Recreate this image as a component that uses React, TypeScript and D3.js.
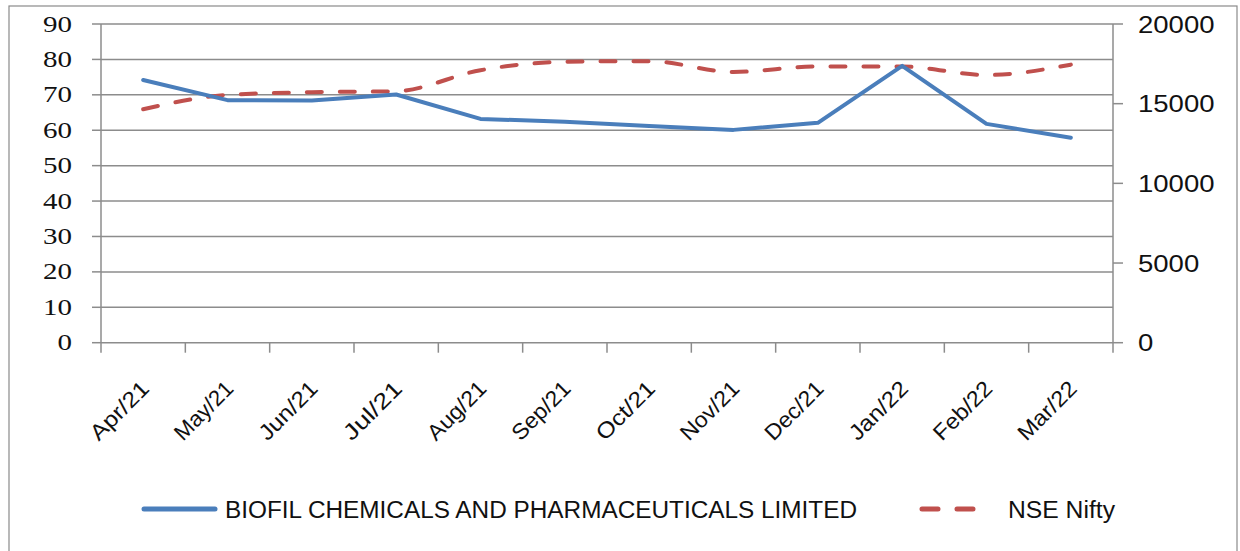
import * as d3 from "d3";
import { useEffect, useRef } from "react";

// monthly data, Apr 2021 - Mar 2022
const months = ["Apr/21", "May/21", "Jun/21", "Jul/21", "Aug/21", "Sep/21", "Oct/21", "Nov/21", "Dec/21", "Jan/22", "Feb/22", "Mar/22"];
const biofil = [74.2, 68.5, 68.4, 70.1, 63.2, 62.4, 61.2, 60.1, 62.1, 78.2, 61.8, 57.9];
const nifty = [14650, 15550, 15720, 15780, 17100, 17630, 17670, 16990, 17340, 17330, 16800, 17450];
const leftTicks = [0, 10, 20, 30, 40, 50, 60, 70, 80, 90];
const rightTicks = [0, 5000, 10000, 15000, 20000];
const seriesNames = ["BIOFIL CHEMICALS AND PHARMACEUTICALS LIMITED", "NSE Nifty"];

export default function App() {
    const ref = useRef<SVGSVGElement>(null);

    useEffect(() => {
        const svg = d3.select(ref.current);
        svg.selectAll("*").remove();

        const left = 101, right = 1113, top = 24, bottom = 342.7;
        const grey = "#8c8c8c";

        // frame
        svg.append("rect")
            .attr("x", 9).attr("y", 6).attr("width", 1228).attr("height", 560)
            .attr("fill", "white").attr("stroke", "#8a8a8a").attr("stroke-width", 1.2);

        const x = d3.scaleBand().domain(months).range([left, right]).padding(0);
        const cx = (m) => x(m) + x.bandwidth() / 2;
        const yL = d3.scaleLinear().domain([0, 90]).range([bottom, top]);
        const yR = d3.scaleLinear().domain([0, 20000]).range([bottom, top]);

        // gridlines
        svg.append("g").selectAll("line")
            .data(leftTicks.filter(d => d > 0))
            .enter().append("line")
            .attr("x1", left).attr("x2", right)
            .attr("y1", d => yL(d)).attr("y2", d => yL(d))
            .attr("stroke", grey).attr("stroke-width", 1.5);

        // left axis
        const la = svg.append("g");
        la.append("line").attr("x1", left).attr("x2", left).attr("y1", top).attr("y2", bottom)
            .attr("stroke", grey).attr("stroke-width", 1.5);
        la.selectAll("line.tk").data(leftTicks).enter().append("line").classed("tk", true)
            .attr("x1", left - 9).attr("x2", left).attr("y1", d => yL(d)).attr("y2", d => yL(d))
            .attr("stroke", grey).attr("stroke-width", 1.5);
        la.selectAll("text").data(leftTicks).enter().append("text")
            .attr("x", 72).attr("y", d => yL(d))
            .attr("text-anchor", "end").attr("dominant-baseline", "central")
            .attr("font-family", "Liberation Serif, serif").attr("font-size", 23)
            .attr("textLength", d => String(d).length * 14.5).attr("lengthAdjust", "spacingAndGlyphs")
            .attr("fill", "#111")
            .text(d => d);

        // right axis
        const ra = svg.append("g");
        ra.append("line").attr("x1", right).attr("x2", right).attr("y1", top).attr("y2", bottom)
            .attr("stroke", grey).attr("stroke-width", 1.5);
        ra.selectAll("line.tk").data(rightTicks).enter().append("line").classed("tk", true)
            .attr("x1", right).attr("x2", right + 10).attr("y1", d => yR(d)).attr("y2", d => yR(d))
            .attr("stroke", grey).attr("stroke-width", 1.5);
        ra.selectAll("text").data(rightTicks).enter().append("text")
            .attr("x", 1138).attr("y", d => yR(d))
            .attr("dominant-baseline", "central")
            .attr("font-family", "Liberation Sans, sans-serif").attr("font-size", 24)
            .attr("textLength", d => String(d).length * 15.3).attr("lengthAdjust", "spacingAndGlyphs")
            .attr("fill", "#111")
            .text(d => d);

        // x axis
        const xa = svg.append("g");
        xa.append("line").attr("x1", left).attr("x2", right).attr("y1", bottom).attr("y2", bottom)
            .attr("stroke", grey).attr("stroke-width", 1.5);
        const bounds = months.map(m => x(m)).concat([right]);
        xa.selectAll("line.tk").data(bounds).enter().append("line").classed("tk", true)
            .attr("x1", d => d).attr("x2", d => d).attr("y1", bottom).attr("y2", bottom + 10)
            .attr("stroke", grey).attr("stroke-width", 1.5);
        xa.selectAll("text").data(months).enter().append("text")
            .attr("transform", m => `translate(${cx(m) + 2},${bottom + 42}) rotate(-45)`)
            .attr("text-anchor", "end").attr("dominant-baseline", "central")
            .attr("font-family", "Liberation Sans, sans-serif").attr("font-size", 22)
            .attr("textLength", m => m.length * 12.2).attr("lengthAdjust", "spacingAndGlyphs")
            .attr("fill", "#111")
            .text(m => m);

        // lines
        const blueLine = d3.line<number>()
            .x((d, i) => cx(months[i]))
            .y(d => yL(d));
        const redLine = d3.line<number>()
            .x((d, i) => cx(months[i]))
            .y(d => yR(d))
            .curve(d3.curveMonotoneX);

        svg.append("path").datum(nifty)
            .attr("fill", "none").attr("stroke", "#c0504d").attr("stroke-width", 4)
            .attr("stroke-dasharray", "15,18").attr("stroke-linecap", "round")
            .attr("d", redLine);
        svg.append("path").datum(biofil)
            .attr("fill", "none").attr("stroke", "#4a7ebb").attr("stroke-width", 4)
            .attr("stroke-linecap", "round").attr("stroke-linejoin", "round")
            .attr("d", blueLine);

        // legend
        const lg = svg.append("g");
        lg.append("line").attr("x1", 144).attr("x2", 215).attr("y1", 509).attr("y2", 509)
            .attr("stroke", "#4a7ebb").attr("stroke-width", 5).attr("stroke-linecap", "round");
        lg.append("text").attr("x", 225).attr("y", 510).attr("dominant-baseline", "central")
            .attr("font-family", "Liberation Sans, sans-serif").attr("font-size", 23)
            .attr("textLength", 632).attr("lengthAdjust", "spacingAndGlyphs")
            .attr("fill", "#111")
            .text(seriesNames[0]);
        lg.append("line").attr("x1", 922).attr("x2", 976).attr("y1", 509).attr("y2", 509)
            .attr("stroke", "#c0504d").attr("stroke-width", 5)
            .attr("stroke-dasharray", "16,19").attr("stroke-linecap", "round");
        lg.append("text").attr("x", 1008).attr("y", 510).attr("dominant-baseline", "central")
            .attr("font-family", "Liberation Sans, sans-serif").attr("font-size", 23)
            .attr("textLength", 107).attr("lengthAdjust", "spacingAndGlyphs")
            .attr("fill", "#111")
            .text(seriesNames[1]);
    }, []);

    return (
        <svg ref={ref} width={1240} height={551}
            style={{ position: "absolute", left: 0, top: 0, background: "white" }}></svg>
    );
}
